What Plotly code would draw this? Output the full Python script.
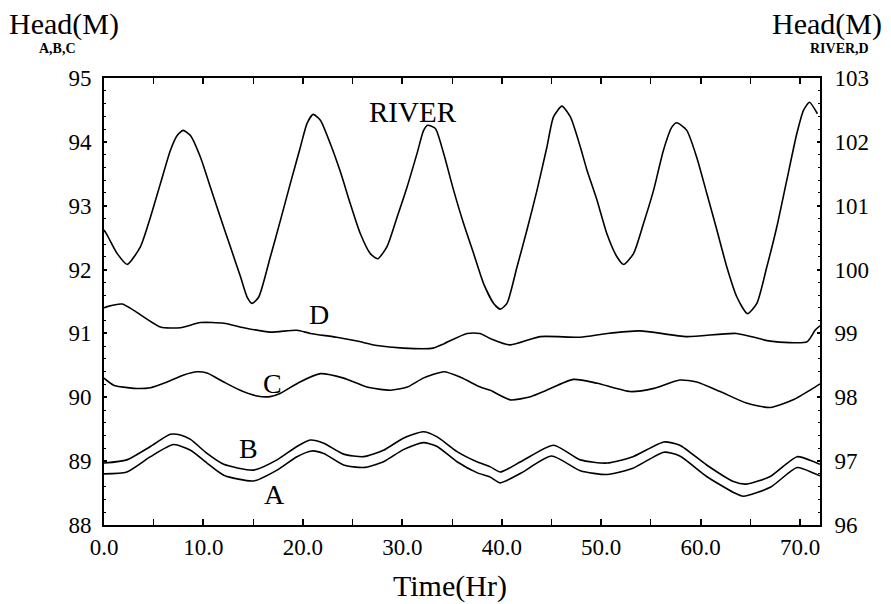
import plotly.graph_objects as go

# ---- data ----
river_t = [0.0, 0.32, 1.33, 2.33, 3.67, 4.67, 5.68, 6.68, 7.36, 7.96, 8.69, 9.7, 10.7, 11.7, 12.7,
           13.72, 14.39, 14.9, 15.56, 16.73, 17.74, 18.74, 19.75, 20.42, 21.03, 21.76, 22.76, 23.77,
           24.77, 25.78, 26.78, 27.52, 28.46, 29.47, 30.47, 31.48, 32.14, 32.55, 33.32, 34.15, 35.16,
           36.16, 37.17, 38.17, 39.18, 39.85, 40.52, 41.53, 42.53, 43.54, 44.54, 45.2, 46.05, 46.9,
           47.9, 48.56, 49.57, 50.57, 51.58, 52.24, 53.25, 54.25, 55.26, 56.26, 57.1, 57.6, 58.6,
           59.6, 60.62, 61.63, 62.63, 63.64, 64.7, 65.65, 66.65, 67.66, 68.66, 69.67, 70.33, 70.94,
           71.74]
river_v = [100.62, 100.54, 100.25, 100.08, 100.36, 100.82, 101.35, 101.87, 102.10, 102.18, 102.10,
           101.76, 101.29, 100.82, 100.36, 99.89, 99.57, 99.47, 99.57, 100.20, 100.77, 101.35,
           101.92, 102.29, 102.43, 102.34, 101.97, 101.53, 101.03, 100.56, 100.25, 100.17, 100.36,
           100.82, 101.29, 101.82, 102.18, 102.26, 102.21, 101.82, 101.24, 100.72, 100.25, 99.78,
           99.47, 99.38, 99.47, 100.04, 100.62, 101.24, 101.92, 102.39, 102.56, 102.39, 101.92,
           101.56, 101.09, 100.56, 100.20, 100.08, 100.25, 100.72, 101.24, 101.87, 102.23, 102.30,
           102.18, 101.76, 101.19, 100.62, 100.04, 99.57, 99.31, 99.47, 100.04, 100.67, 101.40,
           102.13, 102.49, 102.62, 102.44]

d_t = [0.0, 0.32, 1.83, 5.68, 7.69, 9.7, 12.05, 14.05, 16.7, 19.4, 20.75, 23.4, 25.45, 27.45, 30.1,
       33.1, 34.2, 36.5, 37.8, 38.85, 40.85, 43.85, 47.9, 50.6, 53.9, 58.6, 63.6, 67.0, 70.7, 71.5, 72.0]
d_v = [99.40, 99.42, 99.46, 99.10, 99.09, 99.17, 99.16, 99.09, 99.02, 99.05, 99.00, 98.94, 98.88,
       98.81, 98.77, 98.77, 98.84, 99.00, 99.00, 98.92, 98.82, 98.95, 98.94, 99.00, 99.04, 98.95,
       99.00, 98.88, 98.87, 99.05, 99.12]

c_t = [0.0, 0.97, 3.0, 4.67, 6.35, 8.02, 9.36, 10.36, 12.04, 13.7, 15.4, 16.7, 17.7, 19.7, 21.75,
       24.1, 26.45, 28.8, 30.5, 32.1, 34.2, 35.9, 37.84, 38.85, 40.85, 42.9, 44.5, 47.2, 49.6, 52.9,
       55.3, 57.9, 59.6, 61.96, 64.6, 67.0, 69.3, 71.5, 72.0]
c_v = [90.30, 90.19, 90.14, 90.15, 90.24, 90.35, 90.40, 90.38, 90.24, 90.11, 90.02, 90.01, 90.06,
       90.24, 90.37, 90.30, 90.16, 90.11, 90.16, 90.30, 90.40, 90.31, 90.16, 90.11, 89.96, 90.01,
       90.11, 90.28, 90.22, 90.09, 90.14, 90.27, 90.24, 90.09, 89.91, 89.84, 89.96, 90.16, 90.21]

b_t = [0.0, 2.3, 4.67, 6.67, 7.69, 8.7, 10.36, 12.04, 15.05, 17.4, 19.4, 20.75, 22.1, 24.1, 26.1,
       28.1, 30.1, 32.1, 33.5, 35.5, 37.5, 38.85, 39.85, 41.9, 45.2, 47.9, 50.6, 53.2, 56.3, 57.9,
       60.6, 63.3, 64.6, 67.0, 69.7, 71.4, 72.0]
b_v = [88.97, 89.02, 89.23, 89.42, 89.41, 89.34, 89.12, 88.95, 88.86, 89.02, 89.23, 89.33, 89.28,
       89.11, 89.07, 89.17, 89.36, 89.46, 89.38, 89.15, 88.99, 88.91, 88.83, 88.99, 89.25, 89.02,
       88.97, 89.07, 89.30, 89.25, 88.94, 88.68, 88.64, 88.76, 89.07, 88.99, 88.95]

a_t = [0.0, 2.3, 4.67, 7.0, 8.7, 10.36, 12.04, 15.05, 17.4, 19.4, 20.9, 22.1, 24.1, 26.1, 28.1,
       30.1, 32.1, 33.5, 35.5, 37.5, 38.85, 39.85, 41.9, 45.0, 47.9, 50.6, 53.2, 56.3, 57.9, 60.6,
       63.3, 64.3, 67.0, 69.7, 71.4, 72.0]
a_v = [88.80, 88.83, 89.07, 89.26, 89.17, 88.97, 88.78, 88.69, 88.86, 89.07, 89.16, 89.12, 88.94,
       88.90, 88.99, 89.18, 89.29, 89.23, 88.99, 88.82, 88.75, 88.66, 88.81, 89.08, 88.85, 88.79,
       88.89, 89.14, 89.08, 88.76, 88.51, 88.45, 88.59, 88.90, 88.81, 88.77]

x_ticks = [0, 10, 20, 30, 40, 50, 60, 70]
x_ticktext = ["0.0", "10.0", "20.0", "30.0", "40.0", "50.0", "60.0", "70.0"]
left_ticks = [88, 89, 90, 91, 92, 93, 94, 95]
right_ticks = [96, 97, 98, 99, 100, 101, 102, 103]

SERIF = "Liberation Serif"
line = dict(color="black", width=1.6, shape="spline", smoothing=0.6)

fig = go.Figure()
for t, v in [(a_t, a_v), (b_t, b_v), (c_t, c_v)]:
    fig.add_trace(go.Scatter(x=t, y=v, mode="lines", line=line, yaxis="y", showlegend=False,
                             hoverinfo="skip"))
for t, v in [(d_t, d_v), (river_t, river_v)]:
    fig.add_trace(go.Scatter(x=t, y=v, mode="lines", line=line, yaxis="y2", showlegend=False,
                             hoverinfo="skip"))

fig.update_layout(
    width=891, height=604,
    margin=dict(l=104, r=71, t=78, b=79),
    paper_bgcolor="white", plot_bgcolor="white",
    font=dict(family=SERIF, color="black", size=23),
    xaxis=dict(range=[0, 72], tickvals=x_ticks, ticktext=x_ticktext, showgrid=False, zeroline=False,
               showline=True, linecolor="black", linewidth=2, mirror="allticks",
               ticks="inside", ticklen=6, tickwidth=1.5, tickcolor="black",
               minor=dict(dtick=5, tick0=0, ticks="inside", ticklen=4, tickwidth=1.2, tickcolor="black"),
               tickfont=dict(family=SERIF, size=23)),
    yaxis=dict(range=[88, 95], tickvals=left_ticks, showgrid=False, zeroline=False,
               showline=True, linecolor="black", linewidth=2,
               ticks="inside", ticklen=3, tickwidth=1.5, tickcolor="black",
               minor=dict(dtick=0.2, tick0=88, ticks="inside", ticklen=2, tickwidth=1.2, tickcolor="black"),
               tickfont=dict(family=SERIF, size=23), ticklabelstandoff=6),
    yaxis2=dict(range=[96, 103], tickvals=right_ticks, overlaying="y", side="right",
                showgrid=False, zeroline=False, showline=True, linecolor="black", linewidth=2,
                ticks="inside", ticklen=3, tickwidth=1.5, tickcolor="black",
                minor=dict(dtick=0.2, tick0=96, ticks="inside", ticklen=2, tickwidth=1.2, tickcolor="black"),
                tickfont=dict(family=SERIF, size=23), ticklabelstandoff=8),
)

annos = [
    dict(text="RIVER", x=31.1, y=94.46, size=29),
    dict(text="D", x=21.6, y=91.29, size=28),
    dict(text="C", x=16.9, y=90.22, size=28),
    dict(text="B", x=14.5, y=89.2, size=28),
    dict(text="A", x=17.1, y=88.47, size=28),
]
for a in annos:
    fig.add_annotation(text=a["text"], x=a["x"], y=a["y"], xref="x", yref="y",
                       showarrow=False, font=dict(family=SERIF, size=a["size"], color="black"))

# free text placed by pixel position relative to the plot area
W, H = 716, 447
def pp(txt, px, py, size, bold=False):
    fig.add_annotation(text=("<b>%s</b>" % txt) if bold else txt,
                       x=(px - 104) / W, y=(525 - py) / H, xref="paper", yref="paper",
                       xanchor="center", yanchor="middle", showarrow=False,
                       font=dict(family=SERIF, size=size, color="black"))

pp("Head(M)", 64, 24, 30)
pp("A,B,C", 57, 48, 14, bold=True)
pp("Head(M)", 827, 24, 30)
pp("RIVER,D", 839, 48, 14, bold=True)
pp("Time(Hr)", 450, 586, 30)

fig.write_html("out.html")
